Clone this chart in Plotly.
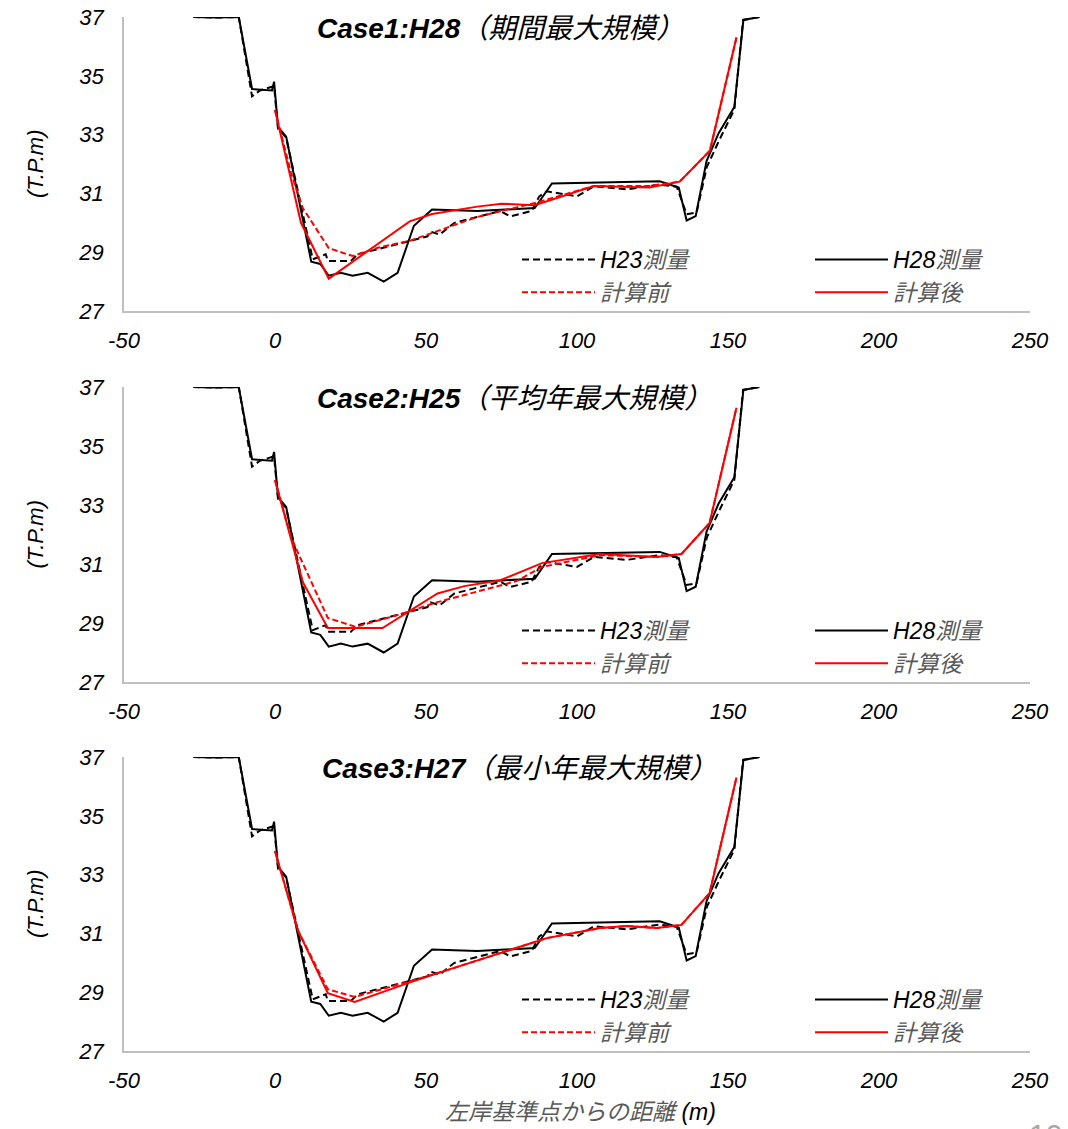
import plotly.graph_objects as go

# ---------------- data ----------------
# Survey profiles (same in every panel)
h23_x = [-27, -20, -12, -7.6, -5, -0.3, 1, 3.7, 12.5, 16.8, 17.5, 25.1, 27.4, 34, 44, 50.5, 51.5, 54.5, 59.4,
         67, 74.6, 77.9, 85, 87.5, 90, 100, 105.6, 116.5, 127.4, 133, 136.3, 139.6, 143, 147.2, 152.1, 155, 160.4]
h23_y = [37, 36.98, 37, 34.3, 34.5, 34.65, 33.2, 32.9, 28.76, 28.93, 28.7, 28.7, 28.93, 29.1, 29.37, 29.54, 29.7, 29.6, 30.0,
         30.2, 30.4, 30.22, 30.4, 30.9, 31.07, 30.9, 31.24, 31.14, 31.3, 31.23, 30.29, 30.35, 31.9, 32.83, 33.85, 36.9, 37.0]

h28_x = [-27, -20, -12, -7.6, -1, -0.3, 1, 3.7, 12, 15, 17.8, 21.8, 25.7, 30.7, 36, 40.6, 46, 52, 67, 86,
         91.7, 127.4, 133.7, 136.3, 139.3, 142.9, 146.9, 152.1, 155.1, 160.4]
h28_y = [37, 36.98, 37, 34.55, 34.5, 34.8, 33.26, 32.93, 28.68, 28.6, 28.2, 28.3, 28.2, 28.3, 28.0, 28.3, 29.9, 30.45, 30.4, 30.5,
         31.34, 31.41, 31.2, 30.08, 30.23, 32.1, 33.05, 33.94, 36.9, 37.0]

# Computed profiles per case
c1_pre_x = [0, 5.3, 9.2, 17.8, 25.7, 34, 45, 52, 67, 87, 105.6, 124, 134, 144, 152.8]
c1_pre_y = [33.84, 31.7, 30.5, 29.14, 28.87, 29.15, 29.4, 29.65, 30.2, 30.7, 31.25, 31.25, 31.4, 32.45, 36.3]
c1_post_x = [0, 8.6, 17.8, 44.6, 52, 67, 75, 86, 105.6, 124, 134, 144, 152.8]
c1_post_y = [33.84, 30.0, 28.1, 30.05, 30.3, 30.55, 30.65, 30.6, 31.25, 31.2, 31.4, 32.45, 36.3]

c2_pre_x = [0, 5.3, 17.5, 26.7, 44, 52.8, 80, 88.4, 107.6, 126.4, 134.6, 143.9, 152.8]
c2_pre_y = [33.85, 31.9, 29.17, 28.87, 29.37, 29.68, 30.42, 30.9, 31.3, 31.24, 31.34, 32.39, 36.3]
c2_post_x = [0, 9.2, 17.5, 35.6, 53.8, 62.7, 74.6, 88.4, 107.6, 126.4, 134.6, 143.9, 152.8]
c2_post_y = [33.85, 30.39, 28.83, 28.83, 30.0, 30.25, 30.45, 31.03, 31.34, 31.24, 31.34, 32.39, 36.3]

c3_pre_x = [0, 7.6, 17.5, 26.4, 44, 57, 90, 107.6, 116.5, 126.4, 134.6, 143.9, 152.8]
c3_pre_y = [33.8, 31.1, 29.1, 28.84, 29.35, 29.75, 30.84, 31.18, 31.25, 31.18, 31.29, 32.37, 36.3]
c3_post_x = [0, 7.6, 17.5, 26.4, 44, 57, 90, 107.6, 116.5, 126.4, 134.6, 143.9, 152.8]
c3_post_y = [33.8, 31.1, 28.97, 28.67, 29.31, 29.75, 30.84, 31.18, 31.25, 31.18, 31.29, 32.37, 36.3]

case_titles = ["Case1:H28", "Case2:H25", "Case3:H27"]
case_subtitles = ["（期間最大規模）", "（平均年最大規模）", "（最小年最大規模）"]
x_ticks = [-50, 0, 50, 100, 150, 200, 250]
y_ticks = [27, 29, 31, 33, 35, 37]

GRAY = "#595959"
FONT = "Liberation Sans, Arial, Noto Sans CJK JP, sans-serif"
names = {
    "h23": "<i>H23</i><span style='color:%s'><i>測量</i></span>" % GRAY,
    "h28": "<i>H28</i><span style='color:%s'><i>測量</i></span>" % GRAY,
    "pre": "<span style='color:%s'><i>計算前</i></span>" % GRAY,
    "post": "<span style='color:%s'><i>計算後</i></span>" % GRAY,
}

cases = [(c1_pre_x, c1_pre_y, c1_post_x, c1_post_y),
         (c2_pre_x, c2_pre_y, c2_post_x, c2_post_y),
         (c3_pre_x, c3_pre_y, c3_post_x, c3_post_y)]

W, H = 1068, 1129
ML, MT = 124, 17
MR = W - 1030
MB = H - 1051
PH = H - MT - MB
PW = W - ML - MR

def fy(py):  # screen pixel -> paper fraction
    return 1 - (py - MT) / PH

def fx(px):
    return (px - ML) / PW

panel_px = [(17, 311), (387, 682), (757, 1051)]

fig = go.Figure()
for i, (prx, pry, pox, poy) in enumerate(cases):
    sfx = "" if i == 0 else str(i + 1)
    xa, ya = "x" + sfx, "y" + sfx
    lg1 = "legend" if i == 0 else "legend%d" % (2 * i + 1)
    lg2 = "legend%d" % (2 * i + 2)
    fig.add_trace(go.Scatter(x=h23_x, y=h23_y, mode="lines", name=names["h23"], xaxis=xa, yaxis=ya,
                             line=dict(color="black", width=2, dash="7px,4px"), legend=lg1))
    fig.add_trace(go.Scatter(x=h28_x, y=h28_y, mode="lines", name=names["h28"], xaxis=xa, yaxis=ya,
                             line=dict(color="black", width=2), legend=lg2))
    fig.add_trace(go.Scatter(x=prx, y=pry, mode="lines", name=names["pre"], xaxis=xa, yaxis=ya,
                             line=dict(color="#FF0000", width=2, dash="6px,3px"), legend=lg1))
    fig.add_trace(go.Scatter(x=pox, y=poy, mode="lines", name=names["post"], xaxis=xa, yaxis=ya,
                             line=dict(color="#FF0000", width=2), legend=lg2))

layout = dict(
    width=W, height=H,
    margin=dict(l=ML, r=MR, t=MT, b=MB, autoexpand=False),
    paper_bgcolor="white", plot_bgcolor="white",
    font=dict(family=FONT, color="black"),
    showlegend=True,
)
tickfont = dict(family=FONT, size=22, color="black")
annotations = []
for i, (top, bot) in enumerate(panel_px):
    sfx = "" if i == 0 else str(i + 1)
    layout["xaxis" + sfx] = dict(
        domain=[0, 1], anchor="y" + sfx, range=[-50, 250], tickvals=x_ticks,
        ticktext=["<i>%d</i>" % v for v in x_ticks], showgrid=False, zeroline=False,
        showline=True, linecolor="#BFBFBF", linewidth=1.5, ticks="", tickfont=tickfont,
        ticklabelstandoff=9, automargin=False, ticklabeloverflow="allow",
    )
    layout["yaxis" + sfx] = dict(
        domain=[fy(bot), fy(top)], anchor="x" + sfx, range=[27, 37], tickvals=y_ticks,
        ticktext=["<i>%d</i>" % v for v in y_ticks], showgrid=False, zeroline=False,
        showline=True, linecolor="#BFBFBF", linewidth=1.5, ticks="", tickfont=tickfont,
        ticklabelstandoff=14, automargin=False, ticklabeloverflow="allow",
    )
    # y-axis label placed as annotation
    annotations.append(dict(
        xref="paper", yref="paper", x=fx(35), y=fy((top + bot) / 2), xanchor="center", yanchor="middle",
        showarrow=False, textangle=-90, text="<i>(T.P.m)</i>",
        font=dict(family=FONT, size=22, color="black"),
    ))
    lx1, lx2 = fx(517), fx(810)
    ly = fy(bot - 35)
    lg1 = "legend" if i == 0 else "legend%d" % (2 * i + 1)
    lg2 = "legend%d" % (2 * i + 2)
    for nm, lx in ((lg1, lx1), (lg2, lx2)):
        layout[nm] = dict(x=lx, y=ly, xanchor="left", yanchor="middle", bgcolor="rgba(0,0,0,0)",
                          font=dict(family=FONT, size=23, color="black"), itemwidth=73,
                          tracegroupgap=0, orientation="v")
    annotations.append(dict(
        xref="x" + sfx, yref="y" + sfx, x=(317 + (5 if i == 2 else 0) - 277) / 3.03, y=36.62,
        xanchor="left", yanchor="middle", showarrow=False,
        text="<b><i>%s</i></b><i>%s</i>" % (case_titles[i], case_subtitles[i]),
        font=dict(family=FONT, size=28, color="black"),
    ))

annotations.append(dict(
    xref="paper", yref="paper", x=fx(580), y=fy(1112), xanchor="center", yanchor="middle",
    showarrow=False, text="<span style='color:%s'><i>左岸基準点からの距離</i></span><i> (m)</i>" % GRAY,
    font=dict(family=FONT, size=23, color="black"),
))
annotations.append(dict(
    xref="paper", yref="paper", x=fx(1045), y=fy(1116), xanchor="center", yanchor="top",
    showarrow=False, text="10", font=dict(family=FONT, size=30, color="#A6A6A6"),
))
layout["annotations"] = annotations
fig.update_layout(**layout)
fig.write_html("out.html", config={"displayModeBar": False},
               post_script="document.body.style.margin='0';document.body.style.overflow='hidden';")
